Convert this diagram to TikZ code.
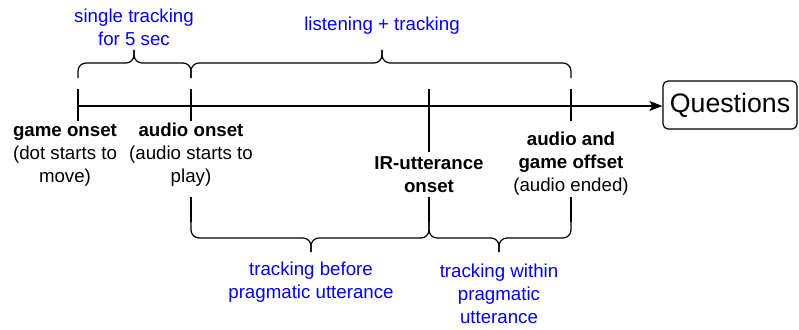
\documentclass[tikz,border=0pt]{standalone}
\usepackage{fontspec}
\setmainfont{Liberation Sans}
\usetikzlibrary{arrows.meta,positioning}

\begin{document}
\begin{tikzpicture}[x=1pt, y=-1pt,
    evt/.style={
        align=center, inner sep=0pt,
        font=\fontsize{18.7}{23}\selectfont
    },
    span/.style={evt, text=blue},
    tick/.style={line width=1.2pt},
    brc/.style={line width=1.2pt, rounded corners=8pt},
    axis/.style={line width=1.2pt, -{Stealth[length=13pt, width=10pt, inset=3pt]}},
    box/.style={
        rectangle, rounded corners=5pt, draw, line width=1.2pt,
        minimum width=134pt, minimum height=48pt, inner sep=0pt,
        font=\fontsize{26.7}{32}\selectfont
    }
]
\useasboundingbox (0,0) rectangle (799,329);

% time line
\coordinate (t0) at (78,106);
\node[box] (questions) at (730,105) {Questions};
\draw[axis] (t0) -- (t0 -| questions.west);

% ticks
\draw[tick] (78,89) -- (78,121);
\draw[tick] (191,89) -- (191,121);
\draw[tick] (429,89) -- (429,152);
\draw[tick] (571,89) -- (571,121);
\draw[tick] (191,197) -- (191,222);
\draw[tick] (429,197) -- (429,222);
\draw[tick] (571,197) -- (571,222);

% events
\node[evt] (gameonset) at (65,155) {\textbf{game onset}\\(dot starts to\\move)};
\node[evt] (audioonset) at (191,155) {\textbf{audio onset}\\(audio starts to\\play)};
\node[evt] (iruttonset) at (429,175) {\textbf{IR-utterance}\\\textbf{onset}};
\node[evt] (offset) at (571,164) {\textbf{audio and}\\\textbf{game offset}\\(audio ended)};

% braces above
\draw[brc] (78,78) |- (134,63) -- (134,50);
\draw[brc] (191,78) |- (134,63) -- (134,50);
\draw[brc] (191,78) |- (382,63) -- (382,50);
\draw[brc] (571,78) |- (382,63) -- (382,50);

% braces below
\draw[brc] (191,222) |- (311,238) -- (311,252);
\draw[brc] (429,222) |- (311,238) -- (311,252);
\draw[brc] (429,222) |- (499,238) -- (499,252);
\draw[brc] (571,222) |- (499,238) -- (499,252);

% phases
\node[span] (single) at (134,27) {single tracking\\for 5 sec};
\node[span] (listen) at (382,26) {listening + tracking};
\node[span] (before) at (311,282) {tracking before\\pragmatic utterance};
\node[span] (within) at (499,294) {tracking within\\pragmatic\\utterance};

\end{tikzpicture}
\end{document}
